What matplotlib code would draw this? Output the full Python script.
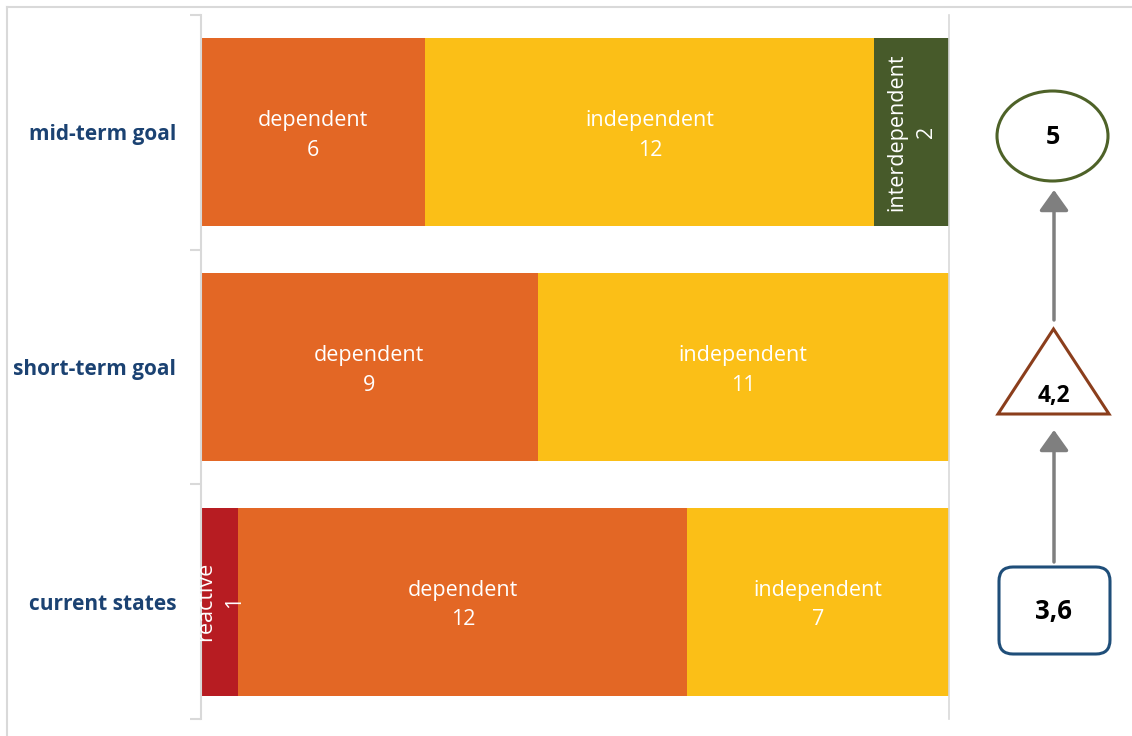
import matplotlib
matplotlib.use("Agg")
import matplotlib.pyplot as plt
from matplotlib.patches import Ellipse, Polygon, FancyBboxPatch, FancyArrowPatch
from matplotlib.lines import Line2D

# Stages, bottom to top
stages = ["current states", "short-term goal", "mid-term goal"]

# Segment values per stage (left to right)
reactive = [1, 0, 0]
dependent = [12, 9, 6]
independent = [7, 11, 12]
interdependent = [0, 0, 2]

segments = [
    ("reactive", reactive, "#B71C22"),
    ("dependent", dependent, "#E36725"),
    ("independent", independent, "#FBBF17"),
    ("interdependent", interdependent, "#475A2A"),
]

# Summary scores shown beside each stage (bottom to top)
scores = ["3,6", "4,2", "5"]

W, H = 1132, 736
fig = plt.figure(figsize=(W / 100, H / 100), dpi=100)
fig.patch.set_facecolor("white")

label_font = ["Open Sans", "DejaVu Sans"]

# Outer frame (top and left edges)
fig.add_artist(Line2D([7 / W, 1], [1 - 7 / H, 1 - 7 / H], color="#D9D9D9", lw=1.5))
fig.add_artist(Line2D([7 / W, 7 / W], [0, 1 - 7 / H], color="#D9D9D9", lw=1.5))

# Bar axes
x0, x1 = 201, 949
y_top, y_bot = 15, 719
ax = fig.add_axes([x0 / W, 1 - y_bot / H, (x1 - x0) / W, (y_bot - y_top) / H])
ax.set_xlim(0, 20)
ax.set_ylim(-0.5, 2.5)

ypos = list(range(len(stages)))
left = [0] * len(stages)
for name, vals, color in segments:
    ax.barh(ypos, vals, left=left, height=0.8, color=color, edgecolor="none")
    for i, v in enumerate(vals):
        if v <= 0:
            continue
        cx = left[i] + v / 2
        if v <= 2:
            ax.text(cx, ypos[i], f"{name}\n{v}", rotation=90, ha="center", va="center",
                    color="white", fontsize=15.5, family=label_font, linespacing=1.5)
        else:
            ax.text(cx, ypos[i] - 0.014, f"{name}\n{v}", ha="center", va="center",
                    color="white", fontsize=15.5, family=label_font, linespacing=1.55)
    left = [l + v for l, v in zip(left, vals)]

for s in ["top", "bottom"]:
    ax.spines[s].set_visible(False)
ax.spines["left"].set_color("#D9D9D9")
ax.spines["left"].set_linewidth(1.5)
ax.spines["right"].set_color("#D9D9D9")
ax.spines["right"].set_linewidth(1.2)
ax.set_xticks([])
ax.set_yticks(ypos)
ax.set_yticklabels(stages, fontsize=15, fontweight="bold", color="#1B4272", family=label_font)
ax.tick_params(axis="y", length=0, pad=18)
ax.set_yticks([-0.5, 0.5, 1.5, 2.5], minor=True)
ax.tick_params(axis="y", which="minor", length=8, width=1.5, color="#D9D9D9")

# Progression diagram on the right
sx = 949
ax2 = fig.add_axes([sx / W, 0, (W - sx) / W, 1])
ax2.set_xlim(sx, W)
ax2.set_ylim(H, 0)
ax2.axis("off")

# Rounded box for the current state
ax2.add_patch(FancyBboxPatch((999, 567), 111, 87, boxstyle="round,pad=0,rounding_size=14",
                             facecolor="white", edgecolor="#1F4E79", lw=2.2))
ax2.text(1054, 612, scores[0], ha="center", va="center", fontsize=18.5, fontweight="bold",
         family=label_font, color="black")

# Triangle for the short-term goal
ax2.add_patch(Polygon([(998, 414), (1109, 414), (1053.5, 329)], closed=True,
                      facecolor="white", edgecolor="#8B3E1C", lw=2.2, joinstyle="miter"))
ax2.text(1053.5, 396, scores[1], ha="center", va="center", fontsize=16.5, fontweight="bold",
         family=label_font, color="black")

# Ellipse for the mid-term goal
ax2.add_patch(Ellipse((1052.5, 136), 111, 90, facecolor="white", edgecolor="#4E6228", lw=2.2))
ax2.text(1052.5, 138, scores[2], ha="center", va="center", fontsize=18, fontweight="bold",
         family=label_font, color="black")

# Arrows between stages
for (ya, yb) in [(562, 430), (320, 190)]:
    ax2.add_patch(FancyArrowPatch((1054, ya), (1054, yb), arrowstyle="-|>,head_length=7,head_width=5",
                                  color="#7F7F7F", lw=2.5, mutation_scale=1.8,
                                  shrinkA=0, shrinkB=0))

fig.savefig("out.png", dpi=100, facecolor="white")
